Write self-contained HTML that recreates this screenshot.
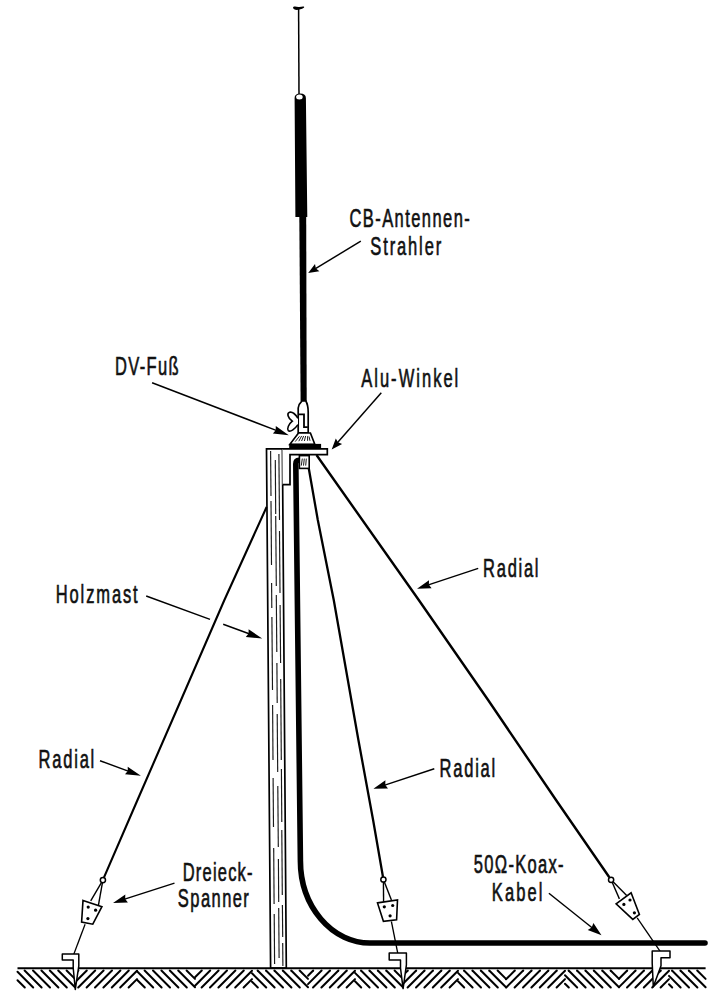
<!DOCTYPE html>
<html><head><meta charset="utf-8"><style>
html,body{margin:0;padding:0;background:#fff;width:720px;height:1000px;overflow:hidden}
svg{display:block}
text{font-family:"Liberation Sans",sans-serif;fill:#111;stroke:#111;stroke-width:0.55px}
</style></head><body>
<svg width="720" height="1000" viewBox="0 0 720 1000">
<path d="M293,7.6 C293,5.9 296,6.3 298.5,6.9 C300.5,7.2 302.6,6.1 304.1,6.7 C304.8,7.7 302,8.9 299.5,9.6 C297,10.2 293,10.1 293,7.6 Z" fill="#000"/>
<line x1="298.6" y1="8" x2="299" y2="95" stroke="#000" stroke-width="1.5"/>
<path d="M294.6,98 Q294.6,93.5 300.2,93.5 Q305.9,93.5 305.9,98 L307.3,217 L295.4,217 Z" fill="#000"/>
<ellipse cx="299.4" cy="97" rx="3.3" ry="2.5" fill="#fff"/>
<path d="M299.3,216 L306.2,216 L306.7,401 L300.6,401 Z" fill="#000"/>
<path d="M302,400.8 L305.7,400.8 Q308.2,405 308.2,412 L308.2,432.8 L298.2,432.8 L298.2,408 Q298.6,404 302,400.8 Z" fill="#fff" stroke="#000" stroke-width="1.7"/>
<path d="M298.8,414.3 L304,414.3 L304,427.2 L307.8,427.2" fill="none" stroke="#000" stroke-width="1.8"/>
<path d="M298,418.2 C295.5,414.5 292.5,411.5 289.6,412.3 C286.8,413.2 287.4,417.5 292.3,421.2 C288.6,424.2 286.8,428.6 288.3,430.6 C290.3,432.6 295.2,428.5 298,424.6" fill="#fff" stroke="#000" stroke-width="1.6"/>
<path d="M298.5,433 L310.4,433 L314.8,444.3 L289.9,444.3 Z" fill="#fff" stroke="#000" stroke-width="1.7"/>
<line x1="299.5" y1="436.3" x2="295.2" y2="441.6" stroke="#000" stroke-width="0.9"/>
<line x1="301.6" y1="436.0" x2="298.8" y2="441.2" stroke="#000" stroke-width="0.9"/>
<line x1="303.6" y1="436.0" x2="301.6" y2="441.0" stroke="#000" stroke-width="0.9"/>
<line x1="305.6" y1="436.0" x2="304.4" y2="441.0" stroke="#000" stroke-width="0.9"/>
<line x1="307.6" y1="436.2" x2="307.6" y2="440.8" stroke="#000" stroke-width="0.9"/>
<line x1="309.0" y1="436.5" x2="310.0" y2="440.8" stroke="#000" stroke-width="0.9"/>
<rect x="289.2" y="443.9" width="31.9" height="5.2" fill="#000"/>
<path d="M266.5,448.9 L282.4,448.9 L286.3,968 L270.6,968 Z" fill="#fff" stroke="#000" stroke-width="1.7"/>
<path d="M282.4,448.9 L327.3,448.9 L327.3,454.6 L290,454.6 L290,484.7 L282.6,484.7" fill="#fff" stroke="#000" stroke-width="1.7"/>
<line x1="270.6" y1="451" x2="271.0" y2="496" stroke="#1a1a1a" stroke-width="1.15"/>
<line x1="271.0" y1="501" x2="271.5" y2="565" stroke="#1a1a1a" stroke-width="1.15"/>
<line x1="271.6" y1="583" x2="271.8" y2="608" stroke="#1a1a1a" stroke-width="1.15"/>
<line x1="271.9" y1="617" x2="272.5" y2="690" stroke="#1a1a1a" stroke-width="1.15"/>
<line x1="272.6" y1="705" x2="273.0" y2="760" stroke="#1a1a1a" stroke-width="1.15"/>
<line x1="273.1" y1="778" x2="273.5" y2="827" stroke="#1a1a1a" stroke-width="1.15"/>
<line x1="273.7" y1="848" x2="274.1" y2="904" stroke="#1a1a1a" stroke-width="1.15"/>
<line x1="274.2" y1="914" x2="274.6" y2="964" stroke="#1a1a1a" stroke-width="1.15"/>
<line x1="275.3" y1="460" x2="275.7" y2="514" stroke="#1a1a1a" stroke-width="1.15"/>
<line x1="275.7" y1="516" x2="276.3" y2="586" stroke="#1a1a1a" stroke-width="1.15"/>
<line x1="276.3" y1="595" x2="276.8" y2="652" stroke="#1a1a1a" stroke-width="1.15"/>
<line x1="276.9" y1="663" x2="277.2" y2="703" stroke="#1a1a1a" stroke-width="1.15"/>
<line x1="277.2" y1="714" x2="277.7" y2="772" stroke="#1a1a1a" stroke-width="1.15"/>
<line x1="277.8" y1="786" x2="278.3" y2="847" stroke="#1a1a1a" stroke-width="1.15"/>
<line x1="278.4" y1="859" x2="278.7" y2="902" stroke="#1a1a1a" stroke-width="1.15"/>
<line x1="278.7" y1="908" x2="279.1" y2="958" stroke="#1a1a1a" stroke-width="1.15"/>
<line x1="278.9" y1="454" x2="279.5" y2="520" stroke="#1a1a1a" stroke-width="1.15"/>
<line x1="279.5" y1="531" x2="280.0" y2="593" stroke="#1a1a1a" stroke-width="1.15"/>
<line x1="280.1" y1="605" x2="280.6" y2="663" stroke="#1a1a1a" stroke-width="1.15"/>
<line x1="280.7" y1="679" x2="281.3" y2="760" stroke="#1a1a1a" stroke-width="1.15"/>
<line x1="281.4" y1="769" x2="281.8" y2="822" stroke="#1a1a1a" stroke-width="1.15"/>
<line x1="281.8" y1="830" x2="282.3" y2="895" stroke="#1a1a1a" stroke-width="1.15"/>
<line x1="282.4" y1="905" x2="282.7" y2="937" stroke="#1a1a1a" stroke-width="1.15"/>
<line x1="282.7" y1="943" x2="282.9" y2="966" stroke="#1a1a1a" stroke-width="1.15"/>
<path d="M299,460.3 Q295.8,460.3 295.8,464 L300.4,860 A69.5,82.5 0 0 0 370,943 L705,943" fill="none" stroke="#000" stroke-width="5.6" stroke-linecap="round"/>
<rect x="299.4" y="455.6" width="9.8" height="12.8" fill="#fff" stroke="#000" stroke-width="1.6"/>
<line x1="302.3" y1="458.6" x2="301.3" y2="465.6" stroke="#000" stroke-width="0.9"/>
<line x1="304.3" y1="458.6" x2="303.5" y2="465.6" stroke="#000" stroke-width="0.9"/>
<line x1="306.3" y1="458.6" x2="305.7" y2="465.6" stroke="#000" stroke-width="0.9"/>
<path d="M308.8,468.5 L317.8,520 L333.75,600 L358.4,740 L373.1,820 L383,877" fill="none" stroke="#000" stroke-width="2.3" stroke-linejoin="round"/>
<path d="M316.5,455 L418.75,600 L488.1,700 L556,800 L609.3,877.2" fill="none" stroke="#000" stroke-width="2.4" stroke-linejoin="round"/>
<path d="M266.6,507 L224.4,600 L181,700 L137.5,800 L104,877.3" fill="none" stroke="#000" stroke-width="2.1" stroke-linejoin="round"/>
<line x1="102.9" y1="880.1" x2="90.7" y2="900.8" stroke="#000" stroke-width="1.4"/>
<line x1="102.9" y1="880.1" x2="98.4" y2="905.3" stroke="#000" stroke-width="1.4"/>
<circle cx="102.9" cy="880.1" r="2.6" fill="#fff" stroke="#000" stroke-width="1.5"/>
<polygon points="83,900.4 101.9,906.7 92.8,924.2 81.6,922.1" fill="#fff" stroke="#000" stroke-width="1.6"/>
<circle cx="88.2" cy="907.1" r="1.6" fill="#000"/>
<circle cx="95.6" cy="910.2" r="1.6" fill="#000"/>
<circle cx="87.9" cy="918.6" r="1.6" fill="#000"/>
<line x1="85.1" y1="924.2" x2="73.5" y2="955" stroke="#000" stroke-width="1.3"/>
<line x1="383.4" y1="879.5" x2="383.6" y2="901.8" stroke="#000" stroke-width="1.4"/>
<line x1="383.4" y1="879.5" x2="391.4" y2="900" stroke="#000" stroke-width="1.4"/>
<circle cx="383.4" cy="879.5" r="2.6" fill="#fff" stroke="#000" stroke-width="1.5"/>
<polygon points="377.5,902.9 397.5,900 396.6,919.7 383.4,921.3" fill="#fff" stroke="#000" stroke-width="1.6"/>
<circle cx="384.3" cy="906.8" r="1.6" fill="#000"/>
<circle cx="392.7" cy="905.5" r="1.6" fill="#000"/>
<circle cx="390.1" cy="915.8" r="1.6" fill="#000"/>
<line x1="391.4" y1="921.5" x2="398.5" y2="957" stroke="#000" stroke-width="1.3"/>
<line x1="611.1" y1="879.8" x2="619.4" y2="898.9" stroke="#000" stroke-width="1.4"/>
<line x1="611.1" y1="879.8" x2="626.7" y2="895.6" stroke="#000" stroke-width="1.4"/>
<circle cx="611.1" cy="879.8" r="2.6" fill="#fff" stroke="#000" stroke-width="1.5"/>
<polygon points="616.1,903.9 631.1,892.8 639.4,914.4 632.8,919.4" fill="#fff" stroke="#000" stroke-width="1.6"/>
<circle cx="623.9" cy="904.4" r="1.6" fill="#000"/>
<circle cx="630" cy="900" r="1.6" fill="#000"/>
<circle cx="634.4" cy="912.8" r="1.6" fill="#000"/>
<line x1="637.2" y1="917.8" x2="662.2" y2="954.4" stroke="#000" stroke-width="1.3"/>
<line x1="17.5" y1="968.3" x2="705.6" y2="968.3" stroke="#000" stroke-width="1.9"/>
<g stroke="#000" stroke-width="2" stroke-linecap="round">
<line x1="17.5" y1="980.2" x2="24.8" y2="987.5"/>
<line x1="17.5" y1="971.8" x2="33.2" y2="987.5"/>
<line x1="24.6" y1="970.5" x2="41.6" y2="987.5"/>
<line x1="33.0" y1="970.5" x2="50.0" y2="987.5"/>
<line x1="41.4" y1="970.5" x2="58.4" y2="987.5"/>
<line x1="49.8" y1="970.5" x2="66.8" y2="987.5"/>
<line x1="58.2" y1="970.5" x2="75.0" y2="987.3"/>
<line x1="66.6" y1="970.5" x2="75.0" y2="978.9"/>
<line x1="75.0" y1="973.9" x2="78.4" y2="970.5"/>
<line x1="75.0" y1="982.3" x2="86.8" y2="970.5"/>
<line x1="78.2" y1="987.5" x2="95.2" y2="970.5"/>
<line x1="86.6" y1="987.5" x2="103.6" y2="970.5"/>
<line x1="95.0" y1="987.5" x2="112.0" y2="970.5"/>
<line x1="103.4" y1="987.5" x2="120.4" y2="970.5"/>
<line x1="111.8" y1="987.5" x2="128.8" y2="970.5"/>
<line x1="120.2" y1="987.5" x2="137.0" y2="970.7"/>
<line x1="128.6" y1="987.5" x2="137.0" y2="979.1"/>
<line x1="137.0" y1="979.7" x2="144.8" y2="987.5"/>
<line x1="137.0" y1="971.3" x2="153.2" y2="987.5"/>
<line x1="144.6" y1="970.5" x2="161.6" y2="987.5"/>
<line x1="153.0" y1="970.5" x2="170.0" y2="987.5"/>
<line x1="161.4" y1="970.5" x2="178.4" y2="987.5"/>
<line x1="169.8" y1="970.5" x2="186.8" y2="987.5"/>
<line x1="178.2" y1="970.5" x2="195.0" y2="987.3"/>
<line x1="186.6" y1="970.5" x2="195.0" y2="978.9"/>
<line x1="195.0" y1="977.3" x2="201.8" y2="970.5"/>
<line x1="195.0" y1="985.7" x2="210.2" y2="970.5"/>
<line x1="201.6" y1="987.5" x2="218.6" y2="970.5"/>
<line x1="210.0" y1="987.5" x2="227.0" y2="970.5"/>
<line x1="218.4" y1="987.5" x2="235.4" y2="970.5"/>
<line x1="226.8" y1="987.5" x2="243.8" y2="970.5"/>
<line x1="235.2" y1="987.5" x2="252.0" y2="970.7"/>
<line x1="243.6" y1="987.5" x2="252.0" y2="979.1"/>
<line x1="252.0" y1="981.7" x2="257.8" y2="987.5"/>
<line x1="252.0" y1="973.3" x2="266.2" y2="987.5"/>
<line x1="257.6" y1="970.5" x2="274.6" y2="987.5"/>
<line x1="266.0" y1="970.5" x2="283.0" y2="987.5"/>
<line x1="274.4" y1="970.5" x2="291.4" y2="987.5"/>
<line x1="282.8" y1="970.5" x2="299.8" y2="987.5"/>
<line x1="291.2" y1="970.5" x2="308.0" y2="987.3"/>
<line x1="299.6" y1="970.5" x2="308.0" y2="978.9"/>
<line x1="308.0" y1="975.7" x2="313.2" y2="970.5"/>
<line x1="308.0" y1="984.1" x2="321.6" y2="970.5"/>
<line x1="313.0" y1="987.5" x2="330.0" y2="970.5"/>
<line x1="321.4" y1="987.5" x2="338.4" y2="970.5"/>
<line x1="329.8" y1="987.5" x2="346.8" y2="970.5"/>
<line x1="338.2" y1="987.5" x2="355.0" y2="970.7"/>
<line x1="346.6" y1="987.5" x2="355.0" y2="979.1"/>
<line x1="355.0" y1="981.3" x2="361.2" y2="987.5"/>
<line x1="355.0" y1="972.9" x2="369.6" y2="987.5"/>
<line x1="361.0" y1="970.5" x2="378.0" y2="987.5"/>
<line x1="369.4" y1="970.5" x2="386.4" y2="987.5"/>
<line x1="377.8" y1="970.5" x2="394.8" y2="987.5"/>
<line x1="386.2" y1="970.5" x2="403.0" y2="987.3"/>
<line x1="394.6" y1="970.5" x2="403.0" y2="978.9"/>
<line x1="403.0" y1="975.3" x2="407.8" y2="970.5"/>
<line x1="403.0" y1="983.7" x2="416.2" y2="970.5"/>
<line x1="407.6" y1="987.5" x2="424.6" y2="970.5"/>
<line x1="416.0" y1="987.5" x2="433.0" y2="970.5"/>
<line x1="424.4" y1="987.5" x2="441.4" y2="970.5"/>
<line x1="432.8" y1="987.5" x2="449.8" y2="970.5"/>
<line x1="441.2" y1="987.5" x2="458.0" y2="970.7"/>
<line x1="449.6" y1="987.5" x2="458.0" y2="979.1"/>
<line x1="458.0" y1="981.3" x2="464.2" y2="987.5"/>
<line x1="458.0" y1="972.9" x2="472.6" y2="987.5"/>
<line x1="464.0" y1="970.5" x2="481.0" y2="987.5"/>
<line x1="472.4" y1="970.5" x2="489.4" y2="987.5"/>
<line x1="480.8" y1="970.5" x2="497.8" y2="987.5"/>
<line x1="489.2" y1="970.5" x2="506.0" y2="987.3"/>
<line x1="497.6" y1="970.5" x2="506.0" y2="978.9"/>
<line x1="506.0" y1="979.3" x2="514.8" y2="970.5"/>
<line x1="506.2" y1="987.5" x2="523.2" y2="970.5"/>
<line x1="514.6" y1="987.5" x2="531.6" y2="970.5"/>
<line x1="523.0" y1="987.5" x2="540.0" y2="970.5"/>
<line x1="531.4" y1="987.5" x2="548.4" y2="970.5"/>
<line x1="539.8" y1="987.5" x2="556.8" y2="970.5"/>
<line x1="548.2" y1="987.5" x2="565.0" y2="970.7"/>
<line x1="556.6" y1="987.5" x2="565.0" y2="979.1"/>
<line x1="565.0" y1="983.7" x2="568.8" y2="987.5"/>
<line x1="565.0" y1="975.3" x2="577.2" y2="987.5"/>
<line x1="568.6" y1="970.5" x2="585.6" y2="987.5"/>
<line x1="577.0" y1="970.5" x2="594.0" y2="987.5"/>
<line x1="585.4" y1="970.5" x2="602.4" y2="987.5"/>
<line x1="593.8" y1="970.5" x2="610.8" y2="987.5"/>
<line x1="602.2" y1="970.5" x2="619.0" y2="987.3"/>
<line x1="610.6" y1="970.5" x2="619.0" y2="978.9"/>
<line x1="619.0" y1="978.7" x2="627.2" y2="970.5"/>
<line x1="619.0" y1="987.1" x2="635.6" y2="970.5"/>
<line x1="627.0" y1="987.5" x2="644.0" y2="970.5"/>
<line x1="635.4" y1="987.5" x2="652.4" y2="970.5"/>
<line x1="643.8" y1="987.5" x2="660.8" y2="970.5"/>
<line x1="652.2" y1="987.5" x2="669.0" y2="970.7"/>
<line x1="660.6" y1="987.5" x2="669.0" y2="979.1"/>
<line x1="669.0" y1="984.3" x2="672.2" y2="987.5"/>
<line x1="669.0" y1="975.9" x2="680.6" y2="987.5"/>
<line x1="672.0" y1="970.5" x2="689.0" y2="987.5"/>
<line x1="680.4" y1="970.5" x2="697.4" y2="987.5"/>
<line x1="688.8" y1="970.5" x2="705.6" y2="987.3"/>
<line x1="697.2" y1="970.5" x2="705.6" y2="978.9"/>
</g>
<path d="M62.3,953.9 L78.8,953.9 L78.8,965.9 L75.3,989.4 L73.2,968 L73.2,960 L62.3,960 Z" fill="#fff" stroke="#000" stroke-width="1.5" stroke-linejoin="round"/>
<path d="M389.2,952.9 L406.4,952.9 L406.4,964.9 L403.1,988.6 L400.5,968 L400.5,960 L389.2,960 Z" fill="#fff" stroke="#000" stroke-width="1.5" stroke-linejoin="round"/>
<path d="M652.2,951.1 L670,951.1 L670,957.8 L661,957.8 L661,965.8 L653.3,986.7 L652.2,963.1 Z" fill="#fff" stroke="#000" stroke-width="1.5" stroke-linejoin="round"/>
<line x1="360.8" y1="241.1" x2="315.5" y2="268.7" stroke="#000" stroke-width="1.45"/>
<path d="M308.2,273.1L315.0,264.1L315.9,268.4L319.4,271.2Z" fill="#000"/>
<line x1="152.1" y1="382.7" x2="276.2" y2="430.4" stroke="#000" stroke-width="1.45"/>
<path d="M288.8,435.2L272.9,433.4L275.7,430.2L275.8,425.9Z" fill="#000"/>
<line x1="381.3" y1="392.7" x2="337.6" y2="442.6" stroke="#000" stroke-width="1.45"/>
<path d="M331.7,449.4L335.8,438.4L338.0,442.2L342.1,443.9Z" fill="#000"/>
<path d="M146.2,596.0L210.0,619.4M223.2,624.3L249.1,633.8" stroke="#000" stroke-width="1.45" fill="none"/>
<path d="M262.2,638.6L245.8,636.9L248.6,633.6L248.6,629.2Z" fill="#000"/>
<line x1="478.2" y1="568.4" x2="428.4" y2="584.9" stroke="#000" stroke-width="1.45"/>
<path d="M417.0,588.7L429.0,580.3L428.9,584.8L431.6,588.3Z" fill="#000"/>
<line x1="100.0" y1="760.7" x2="128.2" y2="771.1" stroke="#000" stroke-width="1.45"/>
<path d="M140.9,775.8L125.0,774.2L127.8,771.0L127.7,766.7Z" fill="#000"/>
<line x1="434.3" y1="768.8" x2="384.8" y2="785.1" stroke="#000" stroke-width="1.45"/>
<path d="M373.4,788.8L385.4,780.3L385.3,784.9L388.0,788.5Z" fill="#000"/>
<line x1="174.5" y1="883.1" x2="124.7" y2="899.1" stroke="#000" stroke-width="1.45"/>
<path d="M113.0,902.9L125.3,894.5L125.2,899.0L127.9,902.5Z" fill="#000"/>
<line x1="548.9" y1="893.3" x2="592.1" y2="927.7" stroke="#000" stroke-width="1.45"/>
<path d="M601.5,935.2L587.7,930.1L591.7,927.4L593.4,922.9Z" fill="#000"/>
<text transform="translate(349.43,227.30) scale(0.66,1)" x="0" y="0" font-size="25" textLength="182.32" lengthAdjust="spacing" vector-effect="non-scaling-stroke">CB-Antennen-</text>
<text transform="translate(370.29,255.00) scale(0.66,1)" x="0" y="0" font-size="25" textLength="107.50" lengthAdjust="spacing" vector-effect="non-scaling-stroke">Strahler</text>
<text transform="translate(114.96,375.30) scale(0.66,1)" x="0" y="0" font-size="25" textLength="96.45" lengthAdjust="spacing" vector-effect="non-scaling-stroke">DV-Fuß</text>
<text transform="translate(361.19,387.30) scale(0.66,1)" x="0" y="0" font-size="25" textLength="147.11" lengthAdjust="spacing" vector-effect="non-scaling-stroke">Alu-Winkel</text>
<text transform="translate(55.77,602.70) scale(0.66,1)" x="0" y="0" font-size="25" textLength="124.09" lengthAdjust="spacing" vector-effect="non-scaling-stroke">Holzmast</text>
<text transform="translate(483.10,576.60) scale(0.66,1)" x="0" y="0" font-size="25" textLength="83.97" lengthAdjust="spacing" vector-effect="non-scaling-stroke">Radial</text>
<text transform="translate(38.53,768.00) scale(0.66,1)" x="0" y="0" font-size="25" textLength="84.47" lengthAdjust="spacing" vector-effect="non-scaling-stroke">Radial</text>
<text transform="translate(439.48,777.00) scale(0.66,1)" x="0" y="0" font-size="25" textLength="84.55" lengthAdjust="spacing" vector-effect="non-scaling-stroke">Radial</text>
<text transform="translate(182.72,880.60) scale(0.66,1)" x="0" y="0" font-size="25" textLength="105.83" lengthAdjust="spacing" vector-effect="non-scaling-stroke">Dreieck-</text>
<text transform="translate(177.86,907.40) scale(0.66,1)" x="0" y="0" font-size="25" textLength="107.58" lengthAdjust="spacing" vector-effect="non-scaling-stroke">Spanner</text>
<text transform="translate(473.86,873.20) scale(0.66,1)" x="0" y="0" font-size="25" textLength="135.92" lengthAdjust="spacing" vector-effect="non-scaling-stroke">50Ω-Koax-</text>
<text transform="translate(491.77,901.40) scale(0.66,1)" x="0" y="0" font-size="25" textLength="76.89" lengthAdjust="spacing" vector-effect="non-scaling-stroke">Kabel</text>
</svg></body></html>
